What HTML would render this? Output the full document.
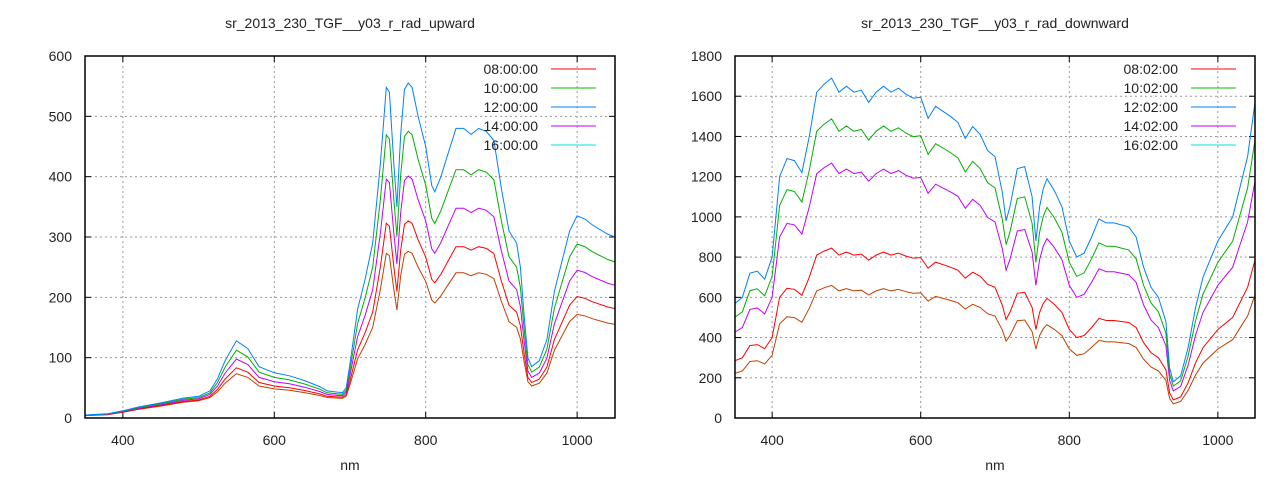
<!DOCTYPE html>
<html><head><meta charset="utf-8"><style>
body{margin:0;background:#fff;width:1280px;height:480px;overflow:hidden}
svg{font-family:"Liberation Sans",sans-serif}
</style></head><body>
<svg id="s" width="1280" height="480" xmlns="http://www.w3.org/2000/svg"></svg>
<script>
const S=document.getElementById('s');let h='';
function plot(o){
 const {x0,x1,y0,y1,ymax,ystep,title,data,ratios,leg,cols,legc}=o;
 const X=n=>x0+(n-350)/700*(x1-x0), Y=v=>y1-v/ymax*(y1-y0);
 for(let v=0;v<=ymax;v+=ystep){const y=Y(v);
  if(v>0&&v<ymax)h+=`<line x1="${x0}" x2="${x1}" y1="${y}" y2="${y}" stroke="#999" stroke-dasharray="2,3"/>`;
  h+=`<line x1="${x0}" x2="${x0+6}" y1="${y}" y2="${y}" stroke="#000"/><line x1="${x1-6}" x2="${x1}" y1="${y}" y2="${y}" stroke="#000"/>`;
  h+=`<text x="${x0-13}" y="${y+5}" font-size="14" text-anchor="end" fill="#222">${v}</text>`;}
 for(const n of [400,600,800,1000]){const x=X(n);
  h+=`<line x1="${x}" x2="${x}" y1="${y0}" y2="${y1}" stroke="#999" stroke-dasharray="2,3"/>`;
  h+=`<line x1="${x}" x2="${x}" y1="${y1}" y2="${y1-6}" stroke="#000"/><line x1="${x}" x2="${x}" y1="${y0}" y2="${y0+6}" stroke="#000"/>`;
  h+=`<text x="${x}" y="${y1+27}" font-size="14" text-anchor="middle" fill="#222">${n}</text>`;}
 h+=`<text x="${(x0+x1)/2}" y="28" font-size="14" text-anchor="middle" fill="#222">${title}</text>`;
 h+=`<text x="${(x0+x1)/2}" y="470" font-size="14" text-anchor="middle" fill="#222">nm</text>`;
 for(let k=4;k>=0;k--){const r=ratios[k];
  const p=data.map(([n,v])=>X(n).toFixed(1)+','+Y(o.f(v,r)).toFixed(1)).join(' ');
  h+=`<polyline points="${p}" fill="none" stroke="${cols[k]}" stroke-width="1"/>`;}
 h+=`<rect x="${x0}" y="${y0}" width="${x1-x0}" height="${y1-y0}" fill="none" stroke="#000" stroke-width="1.5"/>`;
 leg.forEach((t,i)=>{const y=69+i*19;
  h+=`<text x="${x1-77}" y="${y+5}" font-size="14" text-anchor="end" fill="#222">${t}</text>`;
  h+=`<line x1="${x1-64}" x2="${x1-19}" y1="${y}" y2="${y}" stroke="${legc[i]}"/>`;});
}
const cols=['#0080ff','#00b000','#c000ff','#ff0000','#c04000'];
const legc=['#ff0000','#00c000','#0080ff','#c000ff','#00e0e0'];
const up=[[350,5],[380,7],[400,12],[420,18],[450,25],[480,33],[500,36],[515,45],[525,65],[535,95],[550,128],[565,115],[580,85],[600,75],[620,70],[640,62],[660,52],[670,45],[690,42],[695,50],[700,90],[710,180],[720,230],[730,290],[740,420],[748,548],[752,540],[758,420],[762,350],[767,470],[772,545],[777,555],[782,548],[790,500],[800,450],[808,385],[812,375],[820,400],[830,440],[840,480],[850,480],[860,470],[870,480],[880,475],[890,460],[900,380],[910,310],[920,290],[925,250],[930,170],[935,100],[940,85],[950,95],[960,130],[970,210],[980,260],[990,310],[1000,335],[1010,330],[1020,320],[1040,305],[1050,300]];
const dn=[[350,570],[360,600],[370,720],[380,730],[390,690],[400,800],[405,1000],[410,1200],[420,1290],[430,1280],[440,1220],[450,1400],[460,1620],[470,1660],[480,1690],[490,1620],[500,1650],[510,1620],[520,1630],[530,1570],[540,1620],[550,1650],[560,1620],[570,1640],[580,1610],[590,1590],[600,1595],[610,1490],[620,1550],[640,1500],[650,1470],[660,1390],[670,1450],[680,1410],[690,1330],[700,1300],[710,1120],[715,980],[720,1050],[730,1240],[740,1250],[750,1100],[755,880],[760,1050],[765,1140],[770,1190],[780,1130],[790,1050],[800,880],[810,800],[820,820],[830,900],[840,990],[850,970],[860,970],[880,950],[890,900],[900,750],[910,650],[920,600],[930,480],[935,250],[940,180],[950,210],[960,350],[970,550],[980,700],[1000,880],[1020,1000],[1030,1150],[1040,1300],[1050,1570]];
plot({x0:85,x1:615,y0:56,y1:418,ymax:600,ystep:100,title:'sr_2013_230_TGF__y03_r_rad_upward',data:up,ratios:[1,.85,.71,.57,.475],leg:['08:00:00','10:00:00','12:00:00','14:00:00','16:00:00'],cols,legc,f:(v,r)=>r*v+(1-r)*Math.min(v,40)*0.6});
plot({x0:735,x1:1255,y0:56,y1:418,ymax:1800,ystep:200,title:'sr_2013_230_TGF__y03_r_rad_downward',data:dn,ratios:[1,.88,.75,.5,.39],leg:['08:02:00','10:02:00','12:02:00','14:02:00','16:02:00'],cols,legc,f:(v,r)=>r*v});
S.innerHTML=h;
</script>
</body></html>
